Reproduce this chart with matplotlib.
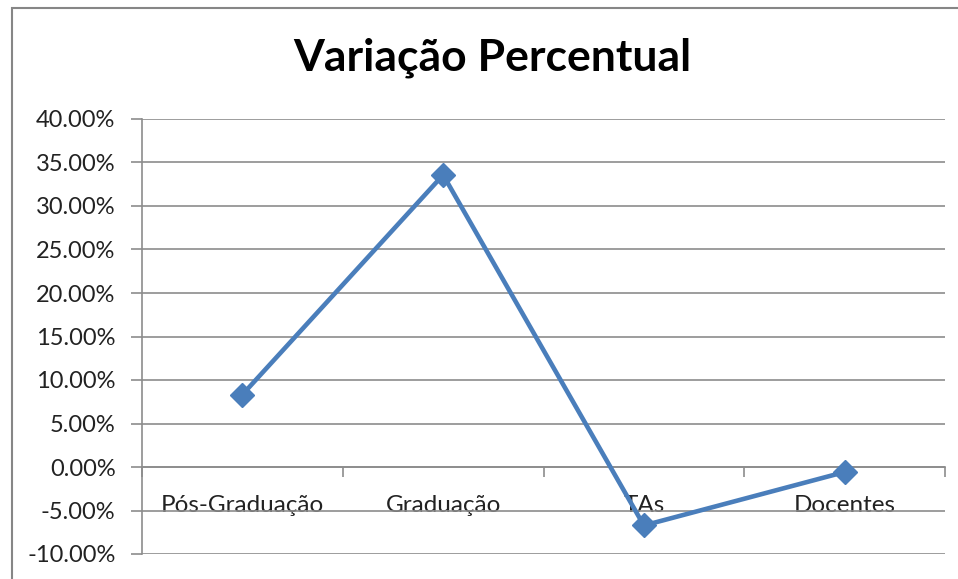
import matplotlib
matplotlib.use("Agg")
import matplotlib.pyplot as plt
from matplotlib.patches import Rectangle
from matplotlib.ticker import FuncFormatter

# data
categorias = ["Pós-Graduação", "Graduação", "TAs", "Docentes"]
variacao = [8.32, 33.57, -6.72, -0.58]  # percent
y_ticks = list(range(-10, 45, 5))

blue = "#4A7EBB"
grid_gray = "#8C8C8C"
plt.rcParams["font.family"] = ["Lato", "DejaVu Sans"]

fig = plt.figure(figsize=(9.58, 5.79), dpi=100)
fig.patches.append(Rectangle((12 / 958, -0.1), 1.2, 1.1 - 8 / 579,
                             transform=fig.transFigure, fill=False,
                             edgecolor="#868686", linewidth=1.5))

ax = fig.add_axes([142 / 958, 1 - 554 / 579, 803 / 958, 435 / 579])
x = list(range(len(categorias)))
ax.plot(x, variacao, color=blue, linewidth=3.3, marker="D", markersize=12,
        zorder=3)

ax.set_xlim(-0.5, len(categorias) - 0.5)
ax.set_ylim(-10, 40)
ax.set_yticks(y_ticks)
ax.yaxis.set_major_formatter(FuncFormatter(lambda v, p: f"{v:.2f}%"))
ax.grid(axis="y", color=grid_gray, linewidth=1.2)
ax.set_axisbelow(True)

for s in ["top", "right"]:
    ax.spines[s].set_visible(False)
ax.spines["left"].set_color(grid_gray)
ax.spines["left"].set_linewidth(1.2)
ax.spines["bottom"].set_position(("data", 0))
ax.spines["bottom"].set_color(grid_gray)
ax.spines["bottom"].set_linewidth(1.2)

ax.set_xticks(x)
ax.set_xticklabels(categorias)
ax.set_xticks([i - 0.5 for i in range(len(categorias) + 1)], minor=True)
ax.tick_params(axis="x", which="major", length=0, pad=20, labelsize=17.5,
               labelcolor="#222222")
ax.tick_params(axis="x", which="minor", length=7, color=grid_gray, width=1.2)
ax.tick_params(axis="y", length=8, color=grid_gray, width=1.2, labelsize=17,
               labelcolor="#222222", pad=11)

fig.text(492 / 958, 1 - 58 / 579, "Variação Percentual", ha="center",
         va="center", fontsize=32, fontweight="bold", color="black")

fig.savefig("out.png", dpi=100, facecolor="white")
